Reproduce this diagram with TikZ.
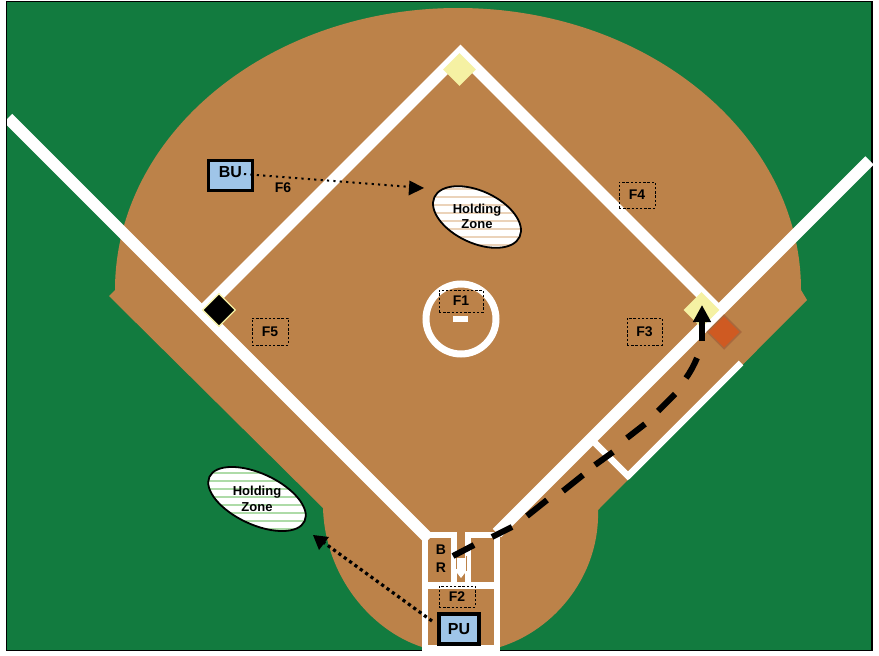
\documentclass[tikz,border=0pt]{standalone}
\usepackage{fontspec}
\setmainfont{Liberation Sans}
\usetikzlibrary{shapes.geometric,arrows.meta,calc}
\definecolor{fieldgreen}{HTML}{127B3F}
\definecolor{dirt}{HTML}{BC8249}
\definecolor{baseyellow}{HTML}{F5F1A3}
\definecolor{bagorange}{HTML}{CF5A22}
\definecolor{bagedge}{HTML}{A9693D}
\definecolor{umpblue}{HTML}{9FC5E8}
\definecolor{stripetan}{HTML}{EBD3BA}
\definecolor{stripegreen}{HTML}{AEDBA8}
\tikzset{
  chalk/.style={draw=white,line width=12pt,line cap=butt},
  thinchalk/.style={draw=white,line width=6.4pt,line cap=butt},
  fielder/.style={draw=black,dash pattern=on 2.4pt off 1.8pt,line width=.9pt,inner sep=0pt,font=\bfseries\fontsize{14}{14}\selectfont},
  ump/.style={draw=black,fill=umpblue,inner sep=0pt,font=\bfseries\fontsize{16}{16}\selectfont},
  basebag/.style={diamond,aspect=1,inner sep=0pt,minimum size=33pt},
  zoneline/.style={ellipse,draw=black,line width=1.8pt,inner sep=0pt},
  zonetext/.style={align=center,font=\bfseries\fontsize{13}{15.5}\selectfont},
  label/.style={font=\bfseries\fontsize{14}{14}\selectfont,inner sep=0pt},
  smalldots/.style={draw=black,line width=2pt,line cap=butt,dash pattern=on 2.2pt off 4.2pt},
  bigdots/.style={draw=black,line width=3.2pt,line cap=butt,dash pattern=on 3.2pt off 3.4pt},
  runner/.style={draw=black,line width=6pt,line cap=butt},
}
\begin{document}
\begin{tikzpicture}[x=1pt,y=-1pt]
\useasboundingbox (0,0) rectangle (879,656);
\fill[white] (0,0) rectangle (879,656);
% field
\fill[fieldgreen] (7,2) rectangle (872,650);
\draw[black,line width=1.4pt] (6.5,1.5) rectangle (872,650.5);
% dirt
\fill[dirt] (109,296) -- (115,290) .. controls (115,134.3) and (268.6,8) .. (458,8)
  .. controls (647.4,8) and (801,134.3) .. (801,290) -- (807,300) -- (598,510)
  .. controls (600,575) and (555,630) .. (500,647) -- (422,647)
  .. controls (370,630) and (325,575) .. (323,508) -- cycle;
% foul lines and base paths
\begin{scope}
\clip (7,0) rectangle (879,656);
\draw[chalk] (8,118) -- (429,539);
\end{scope}
\draw[chalk] (869.5,160.5) -- (497,533);
\draw[chalk,line join=miter,miter limit=4] (205,308.5) -- (460.5,53) -- (715,307.5);
% running lane
\draw[thinchalk] (741,363) -- (627,477);
\draw[thinchalk] (591,439) -- (630,478);
% batter boxes
\draw[thinchalk] (425,650) -- (425,535) -- (454,535) -- (454,586);
\draw[thinchalk] (497,650) -- (497,535) -- (468,535) -- (468,586);
\draw[thinchalk] (425,585.5) -- (497,585.5);
\fill[white] (422,645) rectangle (500,650.5);
% home plate
\fill[white] (454,558) -- (468,558) -- (468,569) -- (461,578) -- (454,569) -- cycle;
\draw[dirt,line width=.9pt] (466,556) -- (466,571);
\draw[dirt,line width=.9pt] (456,556) -- (456,569);
% bases
\node[basebag,fill=baseyellow] (second) at (459.5,69.5) {};
\node[basebag,fill=black,draw=baseyellow,line width=1.2pt] (third) at (219,310) {};
\node[basebag,fill=baseyellow,minimum size=36pt] (first) at (701.5,310) {};
\node[basebag,fill=bagorange,draw=bagedge,line width=1.5pt,minimum size=34pt] (bag) at (724,332) {};
% mound
\node[circle,draw=white,line width=7pt,minimum size=70pt,inner sep=0pt] (mound) at (461,319) {};
\fill[white] (453,316) rectangle (468,322);
% fielders
\node[fielder,minimum width=44pt,minimum height=22pt] (f1) at (461,301) {F1};
\node[fielder,minimum width=36pt,minimum height=21pt] (f2) at (457,596.5) {F2};
\node[fielder,minimum width=35pt,minimum height=27pt] (f3) at (644.5,331.5) {F3};
\node[fielder,minimum width=36pt,minimum height=26pt] (f4) at (637,195) {F4};
\node[fielder,minimum width=36pt,minimum height=27pt] (f5) at (270,331.5) {F5};
\node[label] (f6) at (283,188) {F6};
\node[label] (b) at (441,550) {B};
\node[label] (r) at (441,568) {R};
% holding zones
\begin{scope}
\path[clip,rotate around={-25:(477,217)}] (477,217) ellipse (47pt and 26pt);
\fill[white] (420,180) rectangle (535,255);
\foreach \k in {-5,...,5} \draw[stripetan,line width=2pt] (420,213+8*\k) -- (535,213+8*\k);
\end{scope}
\node[zoneline,rotate=-25,minimum width=94pt,minimum height=52pt] (zoneA) at (477,217) {};
\node[zonetext] (zoneAt) at (477,216.5) {Holding\\Zone};
\begin{scope}
\path[clip,rotate around={-25:(257,499)}] (257,499) ellipse (52.5pt and 25.5pt);
\fill[white] (195,460) rectangle (320,540);
\foreach \k in {-5,...,5} \draw[stripegreen,line width=2pt] (195,497+8*\k) -- (320,497+8*\k);
\end{scope}
\node[zoneline,rotate=-25,minimum width=105pt,minimum height=51pt] (zoneB) at (257,499) {};
\node[zonetext] (zoneBt) at (257,499) {Holding\\Zone};
% umpires
\node[ump,line width=2.5pt,minimum width=44pt,minimum height=30pt,text depth=8pt,text height=12.5pt] (bu) at (230.5,175.5) {BU};
\node[ump,line width=3.5pt,minimum width=40pt,minimum height=30pt] (pu) at (459,629) {PU};
% movement
\coordinate (buGo) at (244,174);
\coordinate (zoneAend) at (424,188);
\coordinate (puGo) at (432,621);
\coordinate (zoneBend) at (313,535);
\draw[smalldots] (buGo) -- ($(buGo)!0.94!(zoneAend)$);
\fill[black] (zoneAend) -- (409.5,180.5) -- (408.5,195.5) -- cycle;
\draw[bigdots] (puGo) -- (323,542);
\fill[black] (zoneBend) -- (329,537) -- (319,550) -- cycle;
\coordinate (brGo) at (453,556);
\coordinate (brEnd) at (702,305);
\draw[runner] (brGo) -- (474,545) (492,537) -- (512,527) (527,516) -- (547,500)
  (563,491) -- (583,475) (595,465) -- (613,452) (627,438) -- (645,424) (658,411) -- (675,394)
  (686,378) .. controls (691,371) and (694,365) .. (697,358);
\draw[runner,-{Triangle[length=17pt,width=17pt]}] (702,341) -- (brEnd);
\end{tikzpicture}
\end{document}
